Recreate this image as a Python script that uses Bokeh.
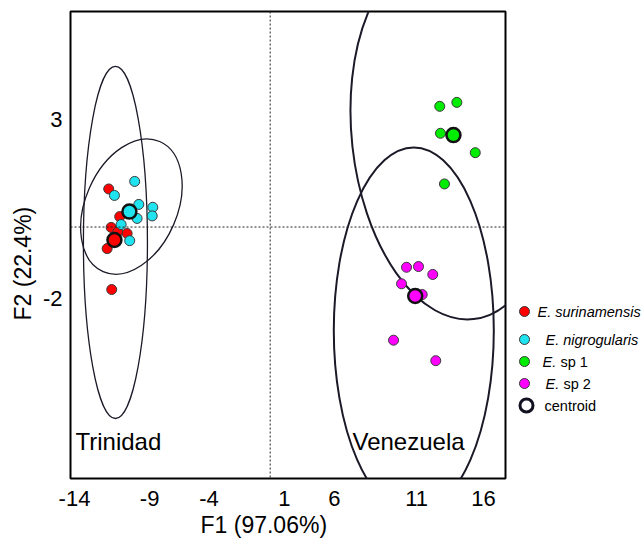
from bokeh.plotting import figure
from bokeh.models import Range1d, FixedTicker, Span, Title
from bokeh.layouts import row
from bokeh.embed import file_html
from bokeh.resources import INLINE
from bokeh.core.properties import value

FONT = "Liberation Sans"

# ---- data ----
sur_x = [-11.32, -10.55, -11.15, -10.69, -10.03, -11.43, -11.11]
sur_y = [1.06, 0.29, -0.01, -0.14, -0.18, -0.60, -1.74]
nig_x = [-9.50, -10.92, -9.21, -8.23, -9.33, -8.27, -10.45, -9.85]
nig_y = [1.27, 0.88, 0.63, 0.55, 0.24, 0.31, 0.07, -0.38]
sp1_x = [11.89, 13.09, 11.94, 14.38, 12.22]
sp1_y = [3.36, 3.47, 2.61, 2.07, 1.20]
sp2_x = [9.56, 10.40, 11.40, 9.21, 10.66, 8.65, 11.61]
sp2_y = [-1.12, -1.10, -1.32, -1.58, -1.88, -3.15, -3.72]

cen_x = [-10.92, -9.87, 12.85, 10.17]
cen_y = [-0.36, 0.43, 2.56, -1.92]

colors = ["#ff0000", "#1fe3ef", "#00ec00", "#ff00ff"]

# confidence ellipses: centre, width, height, angle (rad)
ell_x = [-10.85, -9.73, 10.07, 12.85]
ell_y = [-0.43, 0.57, -2.88, 2.55]
ell_w = [4.49, 6.44, 11.22, 14.25]
ell_h = [9.80, 3.95, 10.19, 10.29]
ell_a = [0.0, -0.41, 0.0, 0.109]
ell_lw = [1.3, 1.3, 2.0, 2.0]

xtick_pos = [-13.72, -8.45, -4.29, 0.99, 4.50, 10.27, 14.96]
xtick_labels = ["-14", "-9", "-4", "1", "6", "11", "16"]
ytick_pos = [3, -2]
ytick_labels = ["3", "-2"]

region_names = ["Trinidad", "Venezuela"]
region_x = [-13.65, 5.77]
region_y = [-5.97, -5.97]

legend_names = ["E. surinamensis", "E. nigrogularis", "E. sp 1", "E. sp 2", "centroid"]

# ---- main plot ----
p = figure(width=510, height=545, x_range=Range1d(-14, 16.5), y_range=Range1d(-7, 6),
           output_backend="svg", toolbar_location=None,
           min_border_left=70, min_border_right=5, min_border_top=11, min_border_bottom=67)
p.grid.visible = False
p.outline_line_color = "black"
p.outline_line_width = 2
p.background_fill_color = "white"
p.border_fill_color = "white"

for ax in (p.xaxis[0], p.yaxis[0]):
    ax.axis_line_color = None
    ax.major_tick_line_color = None
    ax.minor_tick_line_color = None
    ax.major_tick_out = 0
    ax.major_tick_in = 0
    ax.minor_tick_out = 0
    ax.major_label_text_font = FONT
    ax.major_label_text_font_size = "22px"
    ax.major_label_text_color = "black"

p.xaxis.ticker = FixedTicker(ticks=xtick_pos)
p.xaxis.major_label_overrides = {t: l for t, l in zip(xtick_pos, xtick_labels)}
p.xaxis.major_label_standoff = 12

p.yaxis.ticker = FixedTicker(ticks=ytick_pos)
p.yaxis.major_label_overrides = {t: l for t, l in zip(ytick_pos, ytick_labels)}
p.yaxis.major_label_standoff = 8

xlab = Title(text="F1 (97.06%)", align="left", offset=130, vertical_align="bottom",
             text_font=FONT, text_font_size="23px", text_font_style="normal",
             text_color="black", standoff=2)
p.add_layout(xlab, "below")
ylab = Title(text="F2 (22.4%)", align="left", offset=158, vertical_align="middle",
             text_font=FONT, text_font_size="23px", text_font_style="normal",
             text_color="black", standoff=6)
p.add_layout(ylab, "left")

p.add_layout(Span(location=0, dimension="height", line_color="#222222",
                  line_width=1, line_dash="2 2"))
p.add_layout(Span(location=0, dimension="width", line_color="#222222",
                  line_width=1, line_dash="2 2"))

p.ellipse(x=ell_x, y=ell_y, width=ell_w, height=ell_h, angle=ell_a,
          fill_color=None, line_color="#1a1a28", line_width=ell_lw)

for xs, ys, c in [(sur_x, sur_y, colors[0]), (nig_x, nig_y, colors[1]),
                  (sp1_x, sp1_y, colors[2]), (sp2_x, sp2_y, colors[3])]:
    p.scatter(xs, ys, size=10, fill_color=c, line_color="#3a3a3a", line_width=1)

p.scatter(cen_x, cen_y, size=14, fill_color=colors, line_color="#111111", line_width=2.5)

p.text(x=region_x, y=region_y, text=region_names, text_font=value(FONT),
       text_font_size="24px", text_baseline="middle", text_align="left", text_color="black")

# ---- legend panel (coordinates in page pixels) ----
lg = figure(width=131, height=545, x_range=Range1d(510, 641), y_range=Range1d(478, 11),
            output_backend="svg", toolbar_location=None, min_border=0,
            min_border_top=11, min_border_bottom=67,
            x_axis_type=None, y_axis_type=None)
lg.grid.visible = False
lg.outline_line_color = None

leg_y = [311, 339, 361, 383, 405]
lg.scatter([524, 524, 524, 524], leg_y[:4], size=10, fill_color=colors,
           line_color="#3a3a3a", line_width=1)
lg.scatter([526], [leg_y[4]], size=13, fill_color="white", line_color="#111122", line_width=3)

LFS = "14.5px"
lg.text(x=[537, 545], y=leg_y[:2], text=legend_names[:2], text_font=value(FONT),
        text_font_size=LFS, text_font_style="italic", text_baseline="middle")
lg.text(x=[542, 545], y=leg_y[2:4], text=["E.", "E."], text_font=value(FONT),
        text_font_size=LFS, text_font_style="italic", text_baseline="middle")
lg.text(x=[560, 563], y=leg_y[2:4], text=[legend_names[2][3:], legend_names[3][3:]],
        text_font=value(FONT), text_font_size=LFS, text_baseline="middle")
lg.text(x=[544], y=[leg_y[4]], text=[legend_names[4]], text_font=value(FONT),
        text_font_size=LFS, text_baseline="middle")

layout = row(p, lg, spacing=0)
open("out.html", "w").write(file_html(layout, INLINE))
